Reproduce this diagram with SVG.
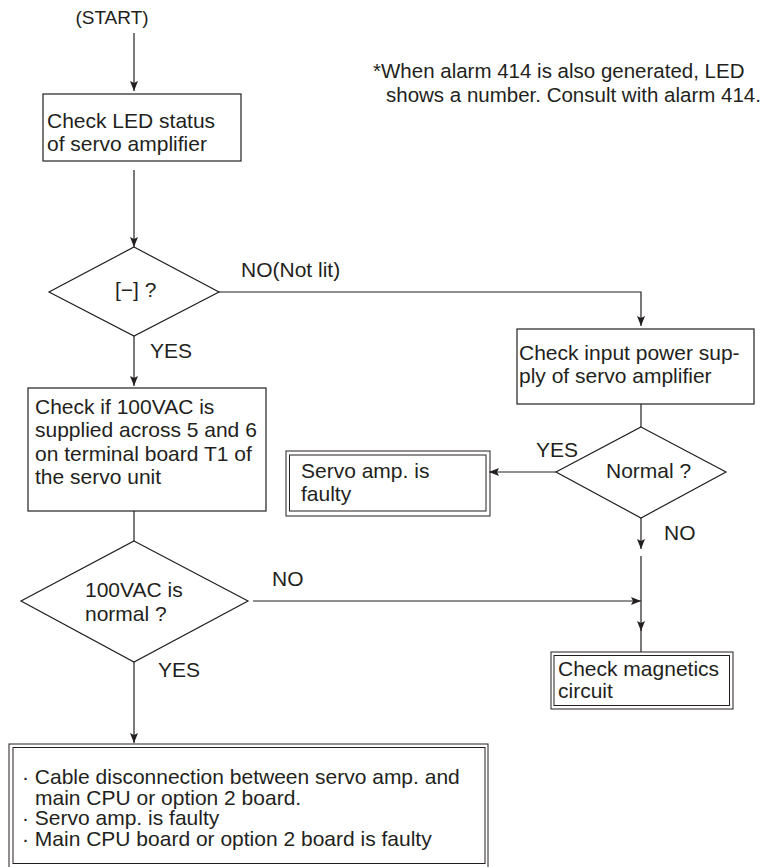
<svg xmlns="http://www.w3.org/2000/svg" width="775" height="867" viewBox="0 0 775 867">
<style>
text{font-family:"Liberation Sans",Arial,sans-serif;font-size:21px;fill:#231f20}
.box{fill:none;stroke:#231f20;stroke-width:1.2}
.thin{fill:none;stroke:#231f20;stroke-width:1}
.ln{fill:none;stroke:#231f20;stroke-width:1.2}
.arr{fill:none;stroke:#231f20;stroke-width:1.2;marker-end:url(#ah)}
</style>
<defs>
<marker id="ah" viewBox="0 0 10 8" refX="10" refY="4" markerWidth="10" markerHeight="8" markerUnits="userSpaceOnUse" orient="auto">
<path d="M0,0 L10,4 L0,8 L2,4 z" fill="#231f20"/>
</marker>
</defs>
<rect width="775" height="867" fill="#fff"/>

<g id="connectors">
<path class="arr" d="M134,33 V91"/>
<path class="arr" d="M134,170 V247"/>
<path class="arr" d="M219,292 H641 V326"/>
<path class="arr" d="M134,336 V386"/>
<path class="ln" d="M134,511 V541"/>
<path class="arr" d="M253,601 H641"/>
<path class="arr" d="M134,662 V743"/>
<path class="ln" d="M641,404 V427"/>
<path class="arr" d="M556,472 H489"/>
<path class="arr" d="M641,518 V549"/>
<path class="arr" d="M641,556 V631"/>
<path class="ln" d="M641,630 V652"/>
</g>

<g id="start">
<text x="112" y="24" text-anchor="middle" style="font-size:19px">(START)</text>
</g>

<g id="note">
<text x="373" y="78" style="font-size:20.5px">*When alarm 414 is also generated, LED</text>
<text x="386" y="102" style="font-size:20.5px">shows a number. Consult with alarm 414.</text>
</g>

<g id="check-led">
<rect class="box" x="43" y="94" width="198" height="67"/>
<text x="47" y="128">Check LED status</text>
<text x="47" y="151">of servo amplifier</text>
</g>

<g id="decision-led">
<path class="box" d="M134,247 L219,292 L134,336 L49,292 Z"/>
<text x="115" y="297">[−] ?</text>
<text x="241" y="277">NO(Not lit)</text>
<text x="150" y="358">YES</text>
</g>

<g id="check-100vac">
<rect class="box" x="28" y="388" width="238" height="123"/>
<text x="35" y="414">Check if 100VAC is</text>
<text x="35" y="437">supplied across 5 and 6</text>
<text x="35" y="461">on terminal board T1 of</text>
<text x="35" y="484">the servo unit</text>
</g>

<g id="decision-100vac">
<path class="box" d="M134,541 L248,601 L134,662 L21,601 Z"/>
<text x="85" y="597">100VAC is</text>
<text x="85" y="621">normal ?</text>
<text x="272" y="586">NO</text>
<text x="158" y="677">YES</text>
</g>

<g id="result-cable">
<rect class="thin" x="9" y="744" width="479" height="126"/>
<rect class="thin" x="13" y="747.5" width="472" height="116"/>
<text x="22" y="784">· Cable disconnection between servo amp. and</text>
<text x="35" y="804.5">main CPU or option 2 board.</text>
<text x="22" y="825">· Servo amp. is faulty</text>
<text x="22" y="845.5">· Main CPU board or option 2 board is faulty</text>
</g>

<g id="check-input">
<rect class="box" x="517" y="329" width="237" height="75"/>
<text x="519" y="360">Check input power sup-</text>
<text x="519" y="383">ply of servo amplifier</text>
</g>

<g id="decision-normal">
<path class="box" d="M641,427 L726,472 L641,518 L556,472 Z"/>
<text x="606" y="478">Normal ?</text>
<text x="536" y="457">YES</text>
<text x="664" y="540">NO</text>
</g>

<g id="result-servo">
<rect class="thin" x="286" y="451" width="204" height="65"/>
<rect class="thin" x="289.5" y="455" width="196.5" height="56"/>
<text x="301" y="478">Servo amp. is</text>
<text x="301" y="501">faulty</text>
</g>

<g id="result-magnetics">
<rect class="thin" x="551" y="652" width="182" height="57"/>
<rect class="thin" x="554" y="655.5" width="175.5" height="50"/>
<text x="558" y="676">Check magnetics</text>
<text x="558" y="698">circuit</text>
</g>
</svg>
